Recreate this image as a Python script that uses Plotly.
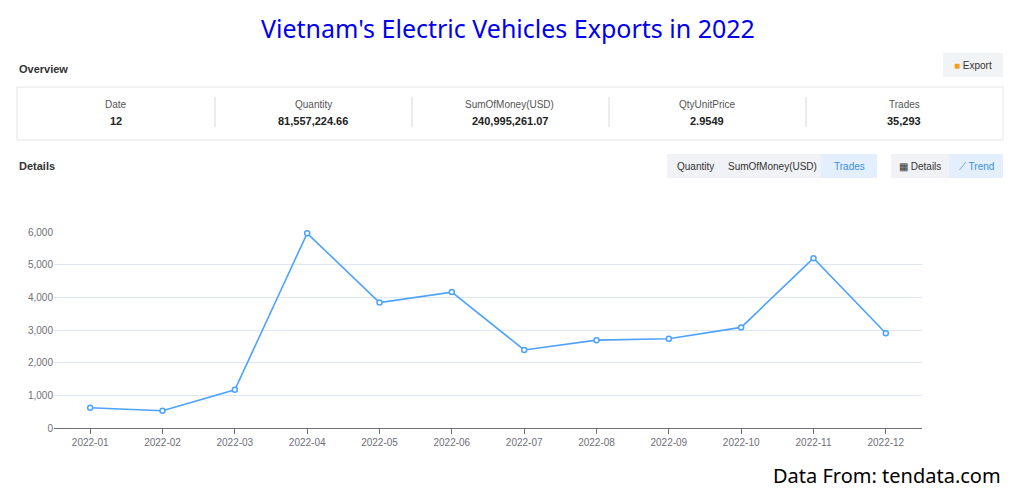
import plotly.graph_objects as go

months = ["2022-01", "2022-02", "2022-03", "2022-04", "2022-05", "2022-06",
          "2022-07", "2022-08", "2022-09", "2022-10", "2022-11", "2022-12"]
trades = [620, 530, 1170, 5960, 3840, 4160, 2390, 2690, 2730, 3080, 5200, 2900]

summary_labels = ["Date", "Quantity", "SumOfMoney(USD)", "QtyUnitPrice", "Trades"]
summary_values = ["12", "81,557,224.66", "240,995,261.07", "2.9549", "35,293"]

# page body adds an 8px margin, so the figure is drawn 16px smaller
OFF = 8
W, H = 1017 - 2 * OFF, 498 - 2 * OFF
L, R, T, B = 54, 922, 232, 428


def px(x):
    return (x - L) / (R - L)


def py(y):
    return (B - y) / (B - T)


fig = go.Figure()
fig.add_trace(go.Scatter(
    x=months, y=trades, mode="lines+markers", cliponaxis=False,
    line=dict(color="#4da3ff", width=1.6),
    marker=dict(size=5, color="white", line=dict(color="#4da3ff", width=1.5)),
    hoverinfo="x+y", showlegend=False,
))

shapes = []
ann = []


def rect(x0, y0, x1, y1, fill, line="rgba(0,0,0,0)"):
    shapes.append(dict(type="rect", xref="paper", yref="paper",
                       x0=px(x0), x1=px(x1), y0=py(y0), y1=py(y1),
                       fillcolor=fill, line=dict(color=line, width=1), layer="below"))


def text(x, y, s, size=10, color="#333", bold=False, anchor="center", font="Arial"):
    ann.append(dict(xref="paper", yref="paper", x=px(x), y=py(y), text=f"<b>{s}</b>" if bold else s,
                    showarrow=False, xanchor=anchor, yanchor="middle",
                    font=dict(size=size, color=color, family=font)))


text(508, 28, "Vietnam's Electric Vehicles Exports in 2022", size=25, color="#0000ee", font="Noto Sans")
text(17, 69, "Overview", size=11, bold=True, anchor="left")
rect(943, 53, 1003, 77, "#f2f3f5")
text(973, 65, "<span style='color:#f0a020'>■</span> Export", size=10)
rect(17, 87, 1003, 140, "white", "#e4e6ea")
for i, (lab, val) in enumerate(zip(summary_labels, summary_values)):
    cx = 116 + i * 197
    text(cx, 104, lab, size=10, color="#555")
    text(cx, 121, val, size=11, color="#222", bold=True)
    if i > 0:
        shapes.append(dict(type="line", xref="paper", yref="paper",
                           x0=px(cx - 98), x1=px(cx - 98), y0=py(97), y1=py(127),
                           line=dict(color="#d8dade", width=1)))
text(17, 166, "Details", size=11, bold=True, anchor="left")
rect(667, 154, 877, 178, "#f0f2f5")
rect(821, 154, 877, 178, "#e3effc")
text(695, 166, "Quantity", size=10)
text(772, 166, "SumOfMoney(USD)", size=10)
text(849, 166, "Trades", size=10, color="#3a8ee6")
rect(891, 154, 1003, 178, "#f0f2f5")
rect(949, 154, 1003, 178, "#e3effc")
text(920, 166, "▦ Details", size=10)
text(976, 166, "⟋ Trend", size=10, color="#3a8ee6")
text(1003, 475, "Data From: tendata.com", size=20, color="black", anchor="right", font="Noto Sans")

fig.update_layout(
    width=W, height=H, paper_bgcolor="white", plot_bgcolor="white",
    margin=dict(l=L - OFF, r=1017 - OFF - R, t=T - OFF, b=498 - OFF - B),
    shapes=shapes, annotations=ann,
    xaxis=dict(type="category", range=[-0.5, 11.5], showgrid=False, showline=True,
               linecolor="#6e7079", ticks="outside", ticklen=5, tickcolor="#6e7079",
               tickfont=dict(size=10, color="#6e7079", family="Arial")),
    yaxis=dict(range=[0, 6000], tickvals=[0, 1000, 2000, 3000, 4000, 5000, 6000],
               tickformat=",", gridcolor="#e0e6f1", zeroline=False, showline=False,
               tickfont=dict(size=10, color="#6e7079", family="Arial")),
)
fig.write_html("out.html")
